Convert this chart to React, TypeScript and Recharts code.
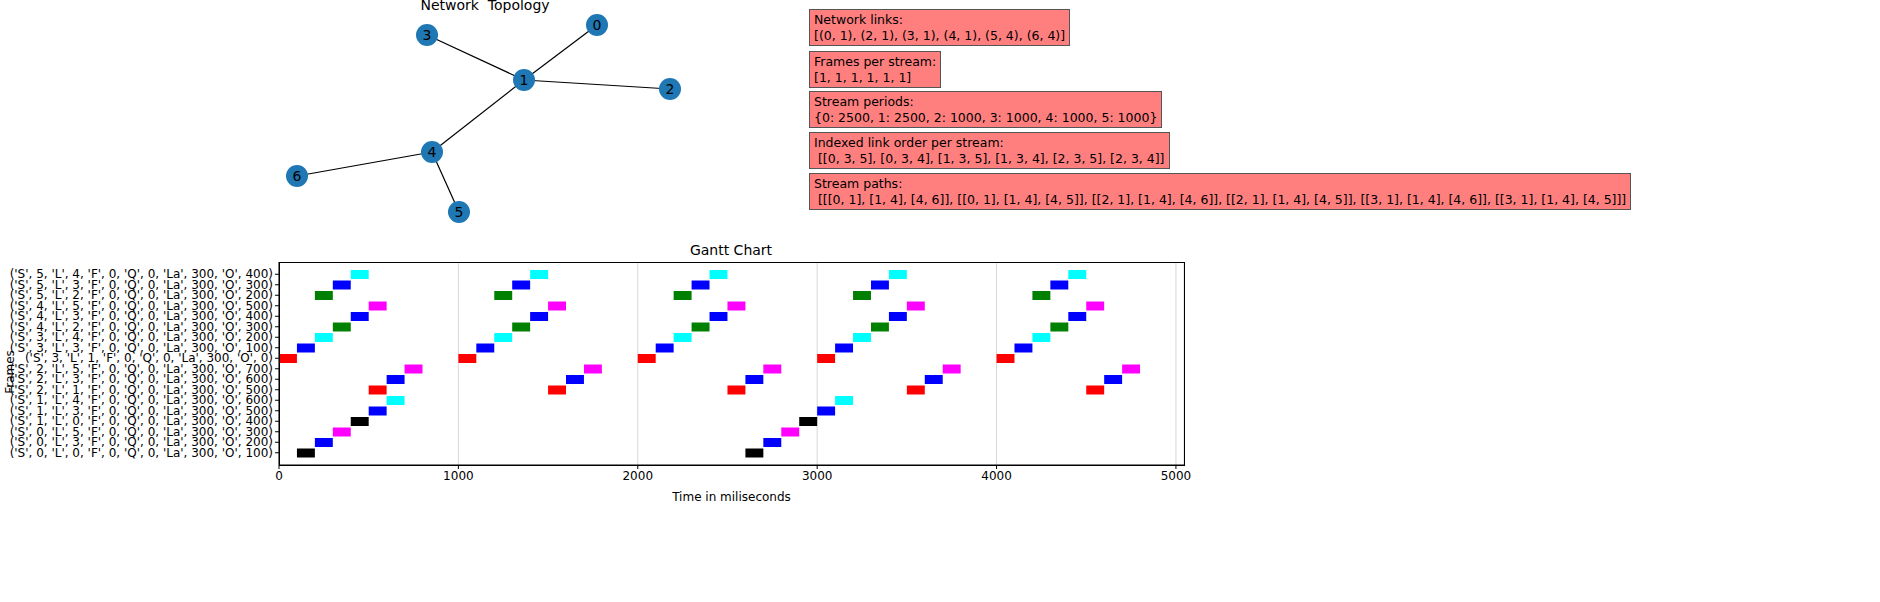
import { BarChart, Bar, XAxis, YAxis, CartesianGrid, Cell, ScatterChart, Scatter } from "recharts";

const FONT = "'DejaVu Sans', sans-serif";

// network topology (layout positions)
const nodeIds = [0, 1, 2, 3, 4, 5, 6];
const nodeX = [597, 524, 670, 427, 432, 459, 297];
const nodeY = [25, 80, 89, 35, 152, 212, 176];
const links: [number, number][] = [[0, 1], [2, 1], [3, 1], [4, 1], [5, 4], [6, 4]];

const infoBoxes = [
  ["Network links:", "[(0, 1), (2, 1), (3, 1), (4, 1), (5, 4), (6, 4)]"],
  ["Frames per stream:", "[1, 1, 1, 1, 1, 1]"],
  ["Stream periods:", "{0: 2500, 1: 2500, 2: 1000, 3: 1000, 4: 1000, 5: 1000}"],
  ["Indexed link order per stream:", " [[0, 3, 5], [0, 3, 4], [1, 3, 5], [1, 3, 4], [2, 3, 5], [2, 3, 4]]"],
  ["Stream paths:", " [[[0, 1], [1, 4], [4, 6]], [[0, 1], [1, 4], [4, 5]], [[2, 1], [1, 4], [4, 6]], [[2, 1], [1, 4], [4, 5]], [[3, 1], [1, 4], [4, 6]], [[3, 1], [1, 4], [4, 5]]]"],
];
const boxTops = [9, 51, 91, 132, 173];

// gantt frames, top to bottom
const frameStream = [5, 5, 5, 4, 4, 4, 3, 3, 3, 2, 2, 2, 1, 1, 1, 0, 0, 0];
const frameLink = [4, 3, 2, 5, 3, 2, 4, 3, 1, 5, 3, 1, 4, 3, 0, 5, 3, 0];
const frameOffset = [400, 300, 200, 500, 400, 300, 200, 100, 0, 700, 600, 500, 600, 500, 400, 300, 200, 100];
const streamPeriod = [2500, 2500, 1000, 1000, 1000, 1000];
const frameLength = 100;
const linkColors = ["black", "red", "green", "blue", "cyan", "magenta"];
const horizon = 5000;
const xTicks = [0, 1000, 2000, 3000, 4000, 5000];
const occurrences = [0, 1, 2, 3, 4];

const ganttData = frameStream.map((s, i) => {
  const row: Record<string, any> = {
    label: `('S', ${s}, 'L', ${frameLink[i]}, 'F', 0, 'Q', 0, 'La', 300, 'O', ${frameOffset[i]})`,
    color: linkColors[frameLink[i]],
  };
  occurrences.forEach((k) => {
    const start = frameOffset[i] + k * streamPeriod[s];
    row["o" + k] = start < horizon ? [start, start + frameLength] : null;
  });
  return row;
});

const nodeData = nodeIds.map((id, i) => ({ id, x: nodeX[i], y: nodeY[i] }));

const NodeShape = (p: any) => (
  <g>
    <circle cx={p.cx} cy={p.cy} r={11} fill="#1f77b4" />
    <text x={p.cx} y={p.cy + 5} textAnchor="middle" fontSize={14} fontFamily={FONT} fill="#000">
      {p.payload.id}
    </text>
  </g>
);

const FrameTick = (p: any) => (
  <text x={p.x} y={p.y} dy={4} textAnchor="end" fontSize={12} fontFamily={FONT} fill="#000">
    {p.payload.value}
  </text>
);

export default function App() {
  return (
    <div style={{ position: "absolute", left: 0, top: 0, width: 1880, height: 602, background: "#fff", fontFamily: FONT }}>
      <div style={{ position: "absolute", left: 385, top: -3, width: 200, textAlign: "center", fontSize: 14, whiteSpace: "pre" }}>
        Network  Topology
      </div>
      <div style={{ position: "absolute", left: 0, top: 0 }}>
        <ScatterChart width={800} height={240} margin={{ top: 0, right: 0, bottom: 0, left: 0 }}>
          <XAxis type="number" dataKey="x" domain={[0, 800]} hide />
          <YAxis type="number" dataKey="y" domain={[0, 240]} reversed hide />
          {links.map(([a, b], i) => (
            <Scatter
              key={i}
              data={[nodeData[a], nodeData[b]]}
              line={{ stroke: "#000", strokeWidth: 1.2 }}
              shape={() => <g />}
              isAnimationActive={false}
            />
          ))}
          <Scatter data={nodeData} shape={NodeShape} isAnimationActive={false} />
        </ScatterChart>
      </div>

      {infoBoxes.map((lines, i) => (
        <div
          key={i}
          style={{
            position: "absolute", left: 809, top: boxTops[i], background: "#ff7f7f", border: "1px solid #555",
            padding: "2px 4px 2px 4px", fontSize: 12.5, lineHeight: "15.5px", whiteSpace: "pre", color: "#000",
          }}
        >
          {lines[0]}
          <br />
          {lines[1]}
        </div>
      ))}

      <div style={{ position: "absolute", left: 631, top: 242, width: 200, textAlign: "center", fontSize: 14 }}>Gantt Chart</div>
      <div style={{ position: "absolute", left: -30, top: 365, width: 80, textAlign: "center", fontSize: 12, transform: "rotate(-90deg)" }}>
        Frames
      </div>
      <div style={{ position: "absolute", left: 279, top: 262, width: 904, height: 202, border: "1px solid #000", pointerEvents: "none", zIndex: 2 }} />

      <div style={{ position: "absolute", left: 0, top: 240 }}>
        <BarChart
          width={1200}
          height={300}
          data={ganttData}
          layout="vertical"
          margin={{ top: 22, right: 16, bottom: 39, left: 15 }}
          barSize={9}
          barGap={-9}
        >
          <CartesianGrid horizontal={false} vertical stroke="#d8d8d8" />
          <XAxis
            type="number"
            domain={[0, 5045]}
            ticks={xTicks}
            allowDataOverflow
            stroke="#000"
            tick={{ fill: "#000", fontSize: 12, fontFamily: FONT }}
            tickSize={4}
            height={36}
            label={{ value: "Time in miliseconds", position: "insideBottom", offset: 0, fill: "#000", fontSize: 12, fontFamily: FONT }}
          />
          <YAxis
            type="category"
            dataKey="label"
            width={264}
            stroke="#000"
            tick={FrameTick}
            tickSize={4}
            interval={0}
            padding={{ top: 7, bottom: 7 }}
          />
          {occurrences.map((k) => (
            <Bar key={k} dataKey={"o" + k} isAnimationActive={false}>
              {ganttData.map((d, i) => (
                <Cell key={i} fill={d.color} />
              ))}
            </Bar>
          ))}
        </BarChart>
      </div>
    </div>
  );
}
